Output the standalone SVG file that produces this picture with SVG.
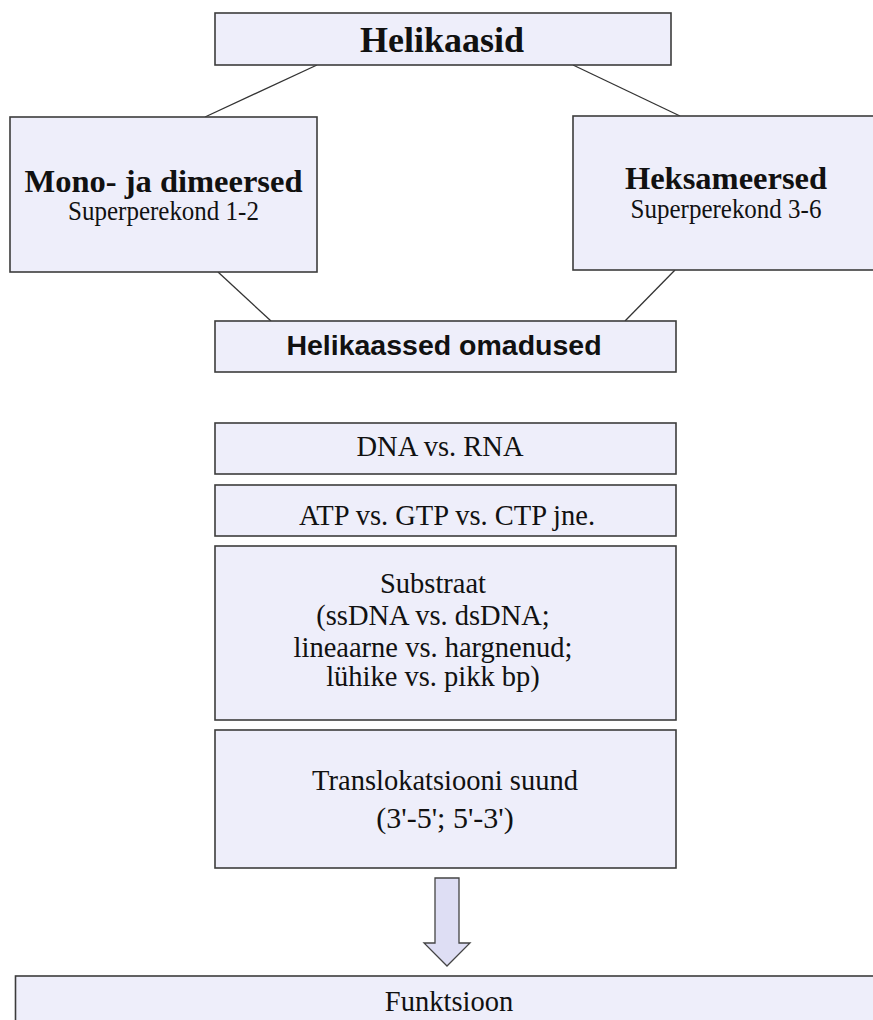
<svg xmlns="http://www.w3.org/2000/svg" width="873" height="1020" viewBox="0 0 873 1020">
<style>
.box{fill:#eeeefa;stroke:#3c3c3c;stroke-width:1.6}
.conn{stroke:#333;stroke-width:1.3;fill:none}
.serif{font-family:"Liberation Serif","Times New Roman",serif;fill:#111;text-anchor:middle}
.r{font-size:28.5px}
.b{font-weight:bold}
.sans{font-family:"Liberation Sans",Arial,sans-serif;font-weight:bold;fill:#111;text-anchor:middle}
</style>
<rect width="873" height="1020" fill="#fff"/>
<g id="connectors">
<line class="conn" x1="317" y1="65" x2="205" y2="117"/>
<line class="conn" x1="573" y1="65" x2="680" y2="116"/>
<line class="conn" x1="218" y1="272" x2="271" y2="321"/>
<line class="conn" x1="675" y1="270" x2="625" y2="321"/>
</g>
<g id="helikaasid">
<rect class="box" x="215" y="13" width="456" height="52"/>
<text class="serif b" x="442" y="52" font-size="36">Helikaasid</text>
</g>
<g id="mono">
<rect class="box" x="10" y="117" width="307" height="155"/>
<text class="serif b" x="163.5" y="192" font-size="32.5">Mono- ja dimeersed</text>
<text class="serif" transform="translate(163.5,220) scale(1,1.08)" font-size="25">Superperekond 1-2</text>
</g>
<g id="heksa">
<rect class="box" x="573" y="116" width="307" height="154"/>
<text class="serif b" x="726" y="189" font-size="32.5">Heksameersed</text>
<text class="serif" transform="translate(726,218) scale(1,1.08)" font-size="25">Superperekond 3-6</text>
</g>
<g id="omadused">
<rect class="box" x="215" y="321" width="461" height="51"/>
<text class="sans" x="444" y="355" font-size="28.5">Helikaassed omadused</text>
</g>
<g id="dnarna">
<rect class="box" x="215" y="423" width="461" height="51"/>
<text class="serif r" x="440" y="456">DNA vs. RNA</text>
</g>
<g id="atp">
<rect class="box" x="215" y="485" width="461" height="51"/>
<text class="serif r" x="447" y="525">ATP vs. GTP vs. CTP jne.</text>
</g>
<g id="substraat">
<rect class="box" x="215" y="546" width="461" height="174"/>
<text class="serif r" x="433" y="593">Substraat</text>
<text class="serif r" x="433" y="625">(ssDNA vs. dsDNA;</text>
<text class="serif r" x="433" y="657">lineaarne vs. hargnenud;</text>
<text class="serif r" x="433" y="686">lühike vs. pikk bp)</text>
</g>
<g id="translokatsioon">
<rect class="box" x="215" y="730" width="461" height="138"/>
<text class="serif r" x="445" y="790">Translokatsiooni suund</text>
<text class="serif" x="445" y="828" font-size="30">(3'-5'; 5'-3')</text>
</g>
<g id="arrow">
<path d="M435,878 H459 V943 H470 L447,966 L424,943 H435 Z" fill="#dedef4" stroke="#444" stroke-width="1.3"/>
</g>
<g id="funktsioon">
<rect class="box" x="15.5" y="976" width="870" height="60"/>
<text class="serif r" x="449" y="1011">Funktsioon</text>
</g>
</svg>
